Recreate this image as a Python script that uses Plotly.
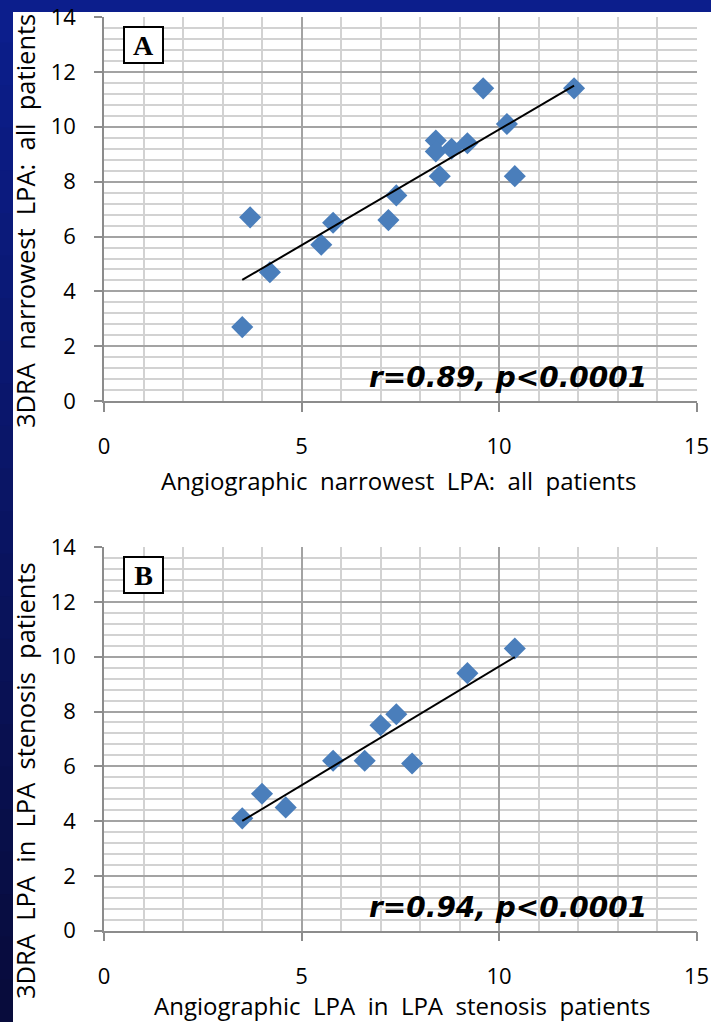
import numpy as np
import plotly.graph_objects as go

# ---------------- data ----------------
xa = [3.5, 3.7, 4.2, 5.5, 5.8, 7.2, 7.4, 8.4, 8.4, 8.8, 9.2, 8.5, 9.6, 10.2, 10.4, 11.9]
ya = [2.7, 6.7, 4.7, 5.7, 6.5, 6.6, 7.5, 9.5, 9.1, 9.2, 9.4, 8.2, 11.4, 10.1, 8.2, 11.4]
xb = [3.5, 4.0, 4.6, 5.8, 6.6, 7.0, 7.4, 7.8, 9.2, 10.4]
yb = [4.1, 5.0, 4.5, 6.2, 6.2, 7.5, 7.9, 6.1, 9.4, 10.3]
x_ticks = [0, 5, 10, 15]
y_ticks = [0, 2, 4, 6, 8, 10, 12, 14]
title_xa = "Angiographic narrowest LPA: all patients"
title_ya = "3DRA narrowest LPA: all patients"
title_xb = "Angiographic LPA in LPA stenosis patients"
title_yb = "3DRA LPA in LPA stenosis patients"
stat_a = "r=0.89, p<0.0001"
stat_b = "r=0.94, p<0.0001"
label_a = "A"
label_b = "B"

W, H = 711, 1022
def px(x):
    return x / W
def py(y):
    return 1 - y / H

def wide(s):
    return s.replace(" ", " \u00a0")

def fit(x, y):
    m, c = np.polyfit(x, y, 1)
    xs = np.array([min(x), max(x)])
    return xs, m * xs + c

fig = go.Figure()
blue = "#4A7EBB"
for i, (x, y) in enumerate([(xa, ya), (xb, yb)]):
    ax = "" if i == 0 else "2"
    fig.add_trace(go.Scatter(x=x, y=y, mode="markers", xaxis="x" + ax, yaxis="y" + ax,
                             marker=dict(symbol="diamond", size=17, color=blue),
                             showlegend=False))
    fx, fy = fit(x, y)
    fig.add_trace(go.Scatter(x=fx, y=fy, mode="lines", xaxis="x" + ax, yaxis="y" + ax,
                             line=dict(color="black", width=2), showlegend=False))

tickfont = dict(family="Open Sans", size=22, color="black")
major = "#a3a3a3"
minor = "#d2d2d2"
def xaxis(dom, anchor):
    return dict(domain=dom, anchor=anchor, range=[0, 15], tickvals=x_ticks, automargin=False,
                showgrid=True, gridcolor=major, gridwidth=1.5, zeroline=False,
                showline=True, linecolor="#8c8c8c", linewidth=1.5,
                ticks="outside", ticklen=9, tickwidth=1.5, tickcolor="#8c8c8c",
                ticklabelstandoff=16, tickfont=tickfont,
                minor=dict(dtick=1, tick0=0, showgrid=True, gridcolor=minor, gridwidth=1.5, ticks=""))
def yaxis(dom, anchor):
    return dict(domain=dom, anchor=anchor, range=[0, 14], tickvals=y_ticks, automargin=False,
                showgrid=True, gridcolor=major, gridwidth=1.5, zeroline=False,
                showline=True, linecolor="#8c8c8c", linewidth=1.5,
                ticks="outside", ticklen=8, tickwidth=1.5, tickcolor="#8c8c8c",
                ticklabelstandoff=14, tickfont=tickfont,
                minor=dict(dtick=0.4, tick0=0, showgrid=True, gridcolor=minor, gridwidth=1.5, ticks=""))

xdom = [px(104), px(696.5)]
fig.update_layout(
    width=W, height=H, margin=dict(l=0, r=0, t=0, b=0, autoexpand=False),
    paper_bgcolor="#0b1a7c", plot_bgcolor="rgba(0,0,0,0)",
    xaxis=xaxis(xdom, "y"), yaxis=yaxis([py(401.2), py(17)], "x"),
    xaxis2=xaxis(xdom, "y2"), yaxis2=yaxis([py(930.7), py(547.1)], "x2"),
)

# background: navy frame with gradient, white panel
shapes = []
n = 24
c0 = np.array([12, 30, 140]); c1 = np.array([8, 12, 60])
for k in range(n):
    t = k / (n - 1)
    c = (c0 * (1 - t) + c1 * t).astype(int)
    shapes.append(dict(type="rect", xref="paper", yref="paper", layer="below",
                       x0=0, x1=1, y0=1 - (k + 1) / n - 0.001, y1=1 - k / n,
                       fillcolor="rgb(%d,%d,%d)" % tuple(c), line=dict(width=0)))
shapes.append(dict(type="rect", xref="paper", yref="paper", layer="below",
                   x0=px(13), x1=1.01, y0=-0.01, y1=py(12),
                   fillcolor="white", line=dict(width=0)))
fig.update_layout(shapes=shapes)

tfont = dict(family="Open Sans", size=24, color="black")
yfont = dict(family="Open Sans", size=25.5, color="black")
base = dict(xref="paper", yref="paper", showarrow=False, xanchor="center", yanchor="middle")
ann = []
ann.append(dict(text=wide(title_xa), x=px(398), y=py(480), font=tfont, **base))
ann.append(dict(text=wide(title_xb), x=px(402), y=py(1005), font=tfont, **base))
ann.append(dict(text=wide(title_ya), x=px(25), y=py(221), font=yfont, textangle=-90, **base))
ann.append(dict(text=wide(title_yb), x=px(25), y=py(781), font=yfont, textangle=-90, **base))
sfont = dict(family="DejaVu Sans", size=28, color="black", weight="bold", style="italic")
ann.append(dict(text=stat_a, x=px(508), y=py(378), font=sfont, **base))
ann.append(dict(text=stat_b, x=px(508), y=py(907), font=sfont, **base))
lfont = dict(family="Liberation Serif", size=28, color="black", weight="bold")
ann.append(dict(text=label_a, x=px(143), y=py(45), font=lfont,
                bordercolor="black", borderwidth=2, bgcolor="white", width=35, height=32, **base))
ann.append(dict(text=label_b, x=px(143), y=py(575), font=lfont,
                bordercolor="black", borderwidth=2, bgcolor="white", width=35, height=32, **base))
fig.update_layout(annotations=ann)

fig.write_html("out.html", config={"displayModeBar": False},
               post_script="document.body.style.margin='0';document.body.style.overflow='hidden';")
